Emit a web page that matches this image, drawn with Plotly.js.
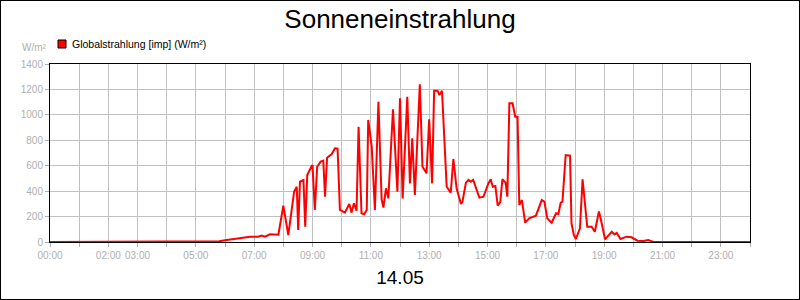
<!DOCTYPE html>
<html>
<head>
<meta charset="utf-8">
<script src="https://cdn.plot.ly/plotly-3.0.1.min.js"></script>
<style>
  html, body { margin: 0; padding: 0; background: #fff; }
  #wrap { width: 798px; height: 298px; border: 1px solid #000; }
  #chart { width: 798px; height: 298px; }
</style>
</head>
<body>
<div id="wrap"><div id="chart"></div></div>
<script>
const titleText = "Sonneneinstrahlung";
const seriesName = "Globalstrahlung [imp] (W/m²)";
const yUnit = "W/m²";
const dateLabel = "14.05";

const hours = [0, 5.5, 5.8, 6.0, 6.25, 6.5, 6.86, 7.13, 7.26, 7.37, 7.54, 7.83, 8.0, 8.17, 8.37, 8.46, 8.51, 8.57, 8.69, 8.75,
  8.82, 8.97, 9.0, 9.08, 9.16, 9.28, 9.37, 9.43, 9.5, 9.66, 9.77, 9.86, 9.94, 10.11, 10.26, 10.34, 10.42, 10.51, 10.58, 10.68,
  10.77, 10.86, 10.91, 11.03, 11.14, 11.26, 11.37, 11.43, 11.52, 11.6, 11.76, 11.91, 12.0, 12.09, 12.25, 12.34, 12.42, 12.51, 12.68, 12.77,
  12.91, 13.0, 13.1, 13.17, 13.29, 13.35, 13.44, 13.6, 13.74, 13.83, 13.94, 14.09, 14.14, 14.26, 14.35, 14.43, 14.51, 14.72, 14.86, 15.03,
  15.11, 15.18, 15.27, 15.35, 15.44, 15.51, 15.62, 15.68, 15.75, 15.86, 15.95, 16.03, 16.09, 16.18, 16.29, 16.43, 16.66, 16.86, 16.95, 17.05,
  17.2, 17.35, 17.43, 17.51, 17.57, 17.68, 17.83, 17.88, 17.96, 18.03, 18.17, 18.26, 18.42, 18.57, 18.68, 18.82, 18.88, 19.03, 19.26, 19.35,
  19.43, 19.56, 19.77, 19.94, 20.14, 20.35, 20.51, 20.69, 24];

const radiation = [0, 0, 5, 13, 22, 34, 42, 42, 50, 42, 60, 58, 286, 55, 396, 435, 94, 474, 487, 120,
  527, 598, 605, 252, 592, 632, 640, 356, 663, 692, 737, 735, 252, 231, 299, 231, 304, 246, 907, 226,
  218, 252, 960, 750, 252, 1103, 336, 270, 422, 343, 1043, 396, 1130, 343, 1143, 461, 815, 370, 1240, 592,
  540, 965, 461, 1190, 1190, 1156, 1190, 435, 388, 653, 422, 299, 315, 467, 488, 474, 488, 349, 356, 461,
  493, 435, 440, 286, 315, 493, 467, 356, 1091, 1091, 986, 986, 291, 330, 152, 186, 207, 330, 317, 186,
  152, 226, 220, 309, 317, 684, 679, 147, 55, 24, 108, 493, 120, 120, 81, 240, 185, 21, 81, 60,
  71, 24, 42, 37, 10, 8, 16, 0, 0];

const tickHours = [0,1,2,3,4,5,6,7,8,9,10,11,12,13,14,15,16,17,18,19,20,21,22,23,24];
const tickLabels = ["00:00","","02:00","03:00","","05:00","","07:00","","09:00","","11:00","","13:00","","15:00","","17:00","","19:00","","21:00","","23:00",""];
const yTicks = [0, 200, 400, 600, 800, 1000, 1200, 1400];

const gray = "#b0b0b0";
const font = "Liberation Sans, Arial, sans-serif";

const trace = {
  x: hours, y: radiation, type: "scatter", mode: "lines",
  line: {color: "#ff0000", width: 2},
  name: seriesName, showlegend: false, hoverinfo: "x+y"
};

// plot area: x 50..750, y 64..242 (page px); div offset 1px by border
const pxX = px => (px - 50) / 700;
const pxY = py => (242 - py) / 178;

const layout = {
  width: 798, height: 298,
  margin: {l: 49, r: 49, t: 63, b: 57},
  paper_bgcolor: "#ffffff", plot_bgcolor: "#ffffff",
  font: {family: font, color: "#000"},
  showlegend: false,
  title: {text: titleText, font: {family: font, size: 26, color: "#000"}, x: 0.5, xanchor: "center", y: 0.94, yanchor: "middle", yref: "container"},
  xaxis: {
    range: [0, 24], tickmode: "array", tickvals: tickHours, ticktext: tickLabels,
    showgrid: true, gridcolor: "#c0c0c0", gridwidth: 1,
    ticks: "outside", ticklen: 4, tickcolor: gray, tickwidth: 1,
    tickfont: {family: font, size: 10, color: gray},
    showline: true, linecolor: "#000", linewidth: 1, mirror: true,
    zeroline: false, layer: "below traces", fixedrange: true,
    title: {text: dateLabel, font: {family: font, size: 19, color: "#000"}, standoff: 10}
  },
  yaxis: {
    range: [0, 1400], tickmode: "array", tickvals: yTicks,
    showgrid: true, gridcolor: "#c0c0c0", gridwidth: 1,
    ticks: "outside", ticklen: 4, tickcolor: gray, tickwidth: 1,
    tickfont: {family: font, size: 10, color: gray},
    showline: true, linecolor: "#000", linewidth: 1, mirror: true,
    zeroline: false, layer: "below traces", fixedrange: true
  },
  shapes: [
    {type: "rect", xref: "paper", yref: "paper",
     x0: pxX(58), x1: pxX(66), y0: pxY(48), y1: pxY(40),
     fillcolor: "#ff0000", line: {color: "#000", width: 1}}
  ],
  annotations: [
    {text: seriesName, xref: "paper", yref: "paper", x: pxX(70), y: pxY(44),
     xanchor: "left", yanchor: "middle", showarrow: false,
     font: {family: font, size: 10.5, color: "#000"}},
    {text: yUnit, xref: "paper", yref: "paper", x: pxX(49), y: pxY(47),
     xanchor: "right", yanchor: "middle", showarrow: false,
     font: {family: font, size: 10, color: gray}}
  ]
};

Plotly.newPlot("chart", [trace], layout, {displayModeBar: false, staticPlot: true});
</script>
</body>
</html>
